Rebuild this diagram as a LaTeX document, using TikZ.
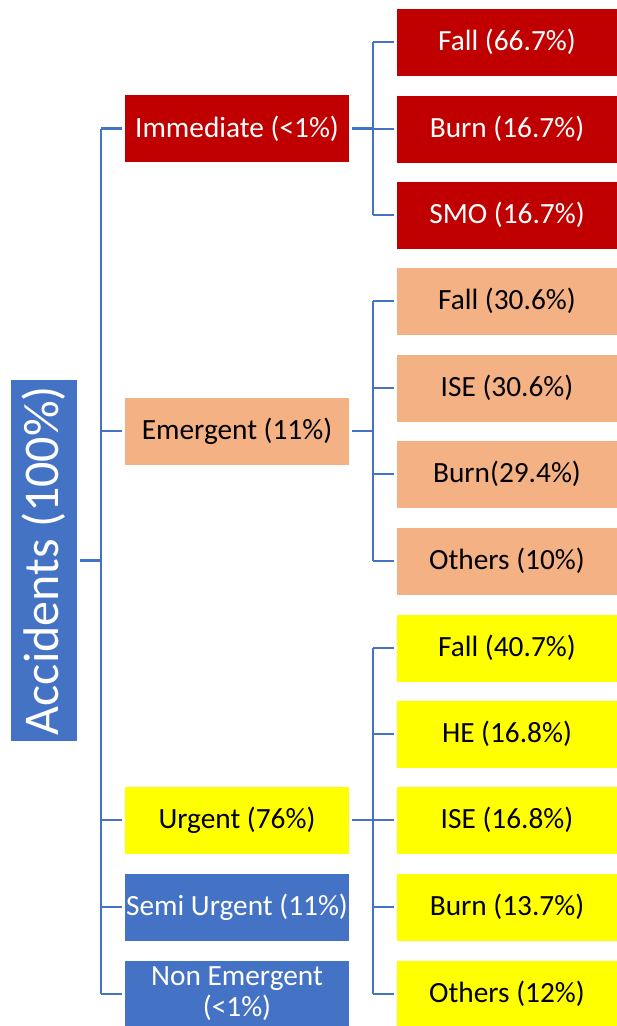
\documentclass[tikz,border=0pt]{standalone}
\usepackage{fontspec}
\setmainfont{Carlito}
\definecolor{cred}{HTML}{C00000}
\definecolor{csal}{HTML}{F4B183}
\definecolor{cyel}{HTML}{FFFF00}
\definecolor{cblu}{HTML}{4472C4}
\definecolor{cline}{HTML}{4472C4}
\tikzset{
  box/.style={inner sep=0pt, outer sep=2.2pt, minimum height=67*0.75pt, font=\fontsize{22}{27}\selectfont, align=center},
  lvone/.style={box, minimum width=224*0.75pt},
  lvtwo/.style={box, minimum width=220*0.75pt},
  redbox/.style={fill=cred, text=white},
  salbox/.style={fill=csal, text=black},
  yelbox/.style={fill=cyel, text=black},
  blubox/.style={fill=cblu, text=white},
  conn/.style={draw=cline, line width=1.6pt},
}
\begin{document}
\begin{tikzpicture}[x=0.75pt,y=-0.75pt]
\useasboundingbox (0,0) rectangle (617,1026);
% root
\node[box, blubox, rotate=90, minimum width=361*0.75pt, minimum height=66*0.75pt, font=\fontsize{37.5}{44}\selectfont] (root) at (44,560.5) {Accidents (100\%)};
% level 1
\node[lvone, redbox] (imm) at (237,128.5) {Immediate (<1\%)};
\node[lvone, salbox] (emg) at (237,431) {Emergent (11\%)};
\node[lvone, yelbox] (urg) at (237,820) {Urgent (76\%)};
\node[lvone, blubox] (semi) at (237,907) {Semi Urgent (11\%)};
\node[lvone, blubox, font=\fontsize{22}{23.3}\selectfont] (non) at (237,994) {Non Emergent\\(<1\%)};
% level 2 - immediate
\node[lvtwo, redbox] (i1) at (507,42) {Fall (66.7\%)};
\node[lvtwo, redbox] (i2) at (507,129) {Burn (16.7\%)};
\node[lvtwo, redbox] (i3) at (507,215) {SMO (16.7\%)};
% emergent
\node[lvtwo, salbox] (e1) at (507,301) {Fall (30.6\%)};
\node[lvtwo, salbox] (e2) at (507,388) {ISE (30.6\%)};
\node[lvtwo, salbox] (e3) at (507,474) {Burn(29.4\%)};
\node[lvtwo, salbox] (e4) at (507,561) {Others (10\%)};
% urgent
\node[lvtwo, yelbox] (u1) at (507,648) {Fall (40.7\%)};
\node[lvtwo, yelbox] (u2) at (507,734) {HE (16.8\%)};
\node[lvtwo, yelbox] (u3) at (507,820) {ISE (16.8\%)};
\node[lvtwo, yelbox] (u4) at (507,907) {Burn (13.7\%)};
\node[lvtwo, yelbox] (u5) at (507,994) {Others (12\%)};
% connectors
\coordinate (t) at (101,0);
\coordinate (b) at (373,0);
\draw[conn] (root.south) -- (root.south -| t);
\draw[conn] (t |- imm.west) -- (t |- non.west);
\foreach \n in {imm,emg,urg,semi,non} \draw[conn] (t |- \n.west) -- (\n.west);
% immediate bus
\draw[conn] (imm.east) -- (b |- imm.east);
\draw[conn] (b |- i1.west) -- (b |- i3.west);
\foreach \n in {i1,i2,i3} \draw[conn] (b |- \n.west) -- (\n.west);
% emergent bus
\draw[conn] (emg.east) -- (b |- emg.east);
\draw[conn] (b |- e1.west) -- (b |- e4.west);
\foreach \n in {e1,e2,e3,e4} \draw[conn] (b |- \n.west) -- (\n.west);
% urgent bus
\draw[conn] (urg.east) -- (b |- urg.east);
\draw[conn] (b |- u1.west) -- (b |- u5.west);
\foreach \n in {u1,u2,u3,u4,u5} \draw[conn] (b |- \n.west) -- (\n.west);
\end{tikzpicture}
\end{document}
